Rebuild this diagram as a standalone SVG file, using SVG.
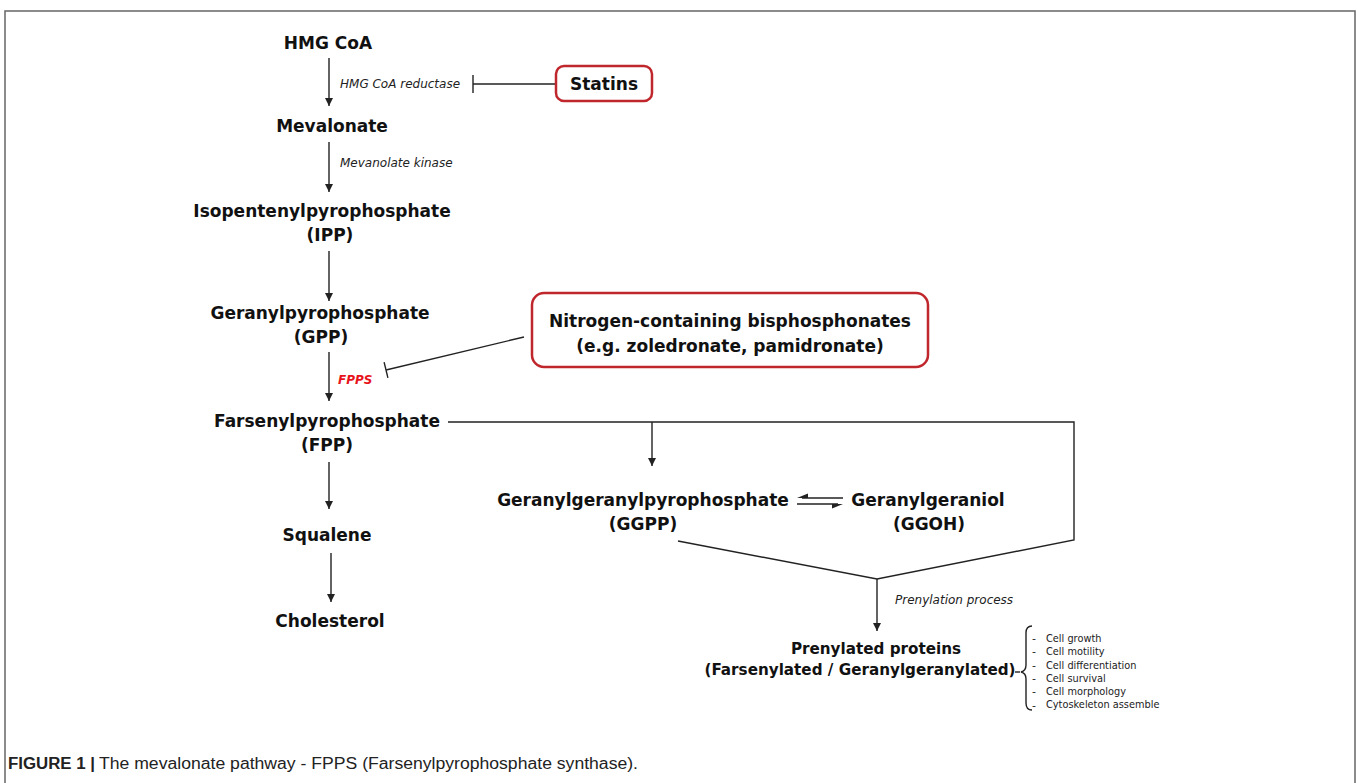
<svg xmlns="http://www.w3.org/2000/svg" width="1357" height="783" viewBox="0 0 1357 783">
<style>
.b{font-family:"DejaVu Sans",Verdana,sans-serif;font-weight:bold;font-size:17px;fill:#111;text-anchor:middle}
.b15{font-size:15.2px}
.i{font-family:"DejaVu Sans",Verdana,sans-serif;font-style:italic;font-size:12px;fill:#222}
.s{font-family:"DejaVu Sans",Verdana,sans-serif;font-size:11px;fill:#222}
.ln{stroke:#222;stroke-width:1.4;fill:none}
.box{fill:#fff;stroke:#c0272d;stroke-width:2.5}
.cap{font-family:"Liberation Sans",Arial,sans-serif;font-size:16px;fill:#222}
</style>
<defs>
<marker id="ah" viewBox="0 0 10 10" refX="10" refY="5" markerWidth="8" markerHeight="8" markerUnits="userSpaceOnUse" orient="auto">
<path d="M0,0 L10,5 L0,10 z" fill="#222"/>
</marker>
</defs>
<rect width="1357" height="783" fill="#fff"/>
<path d="M5,783 V11 H1355 V783" fill="none" stroke="#666" stroke-width="1.5"/>

<g id="connectors">
<line class="ln" x1="329" y1="58" x2="329" y2="106" marker-end="url(#ah)"/>
<line class="ln" x1="329" y1="142" x2="329" y2="192" marker-end="url(#ah)"/>
<line class="ln" x1="329" y1="251" x2="329" y2="301" marker-end="url(#ah)"/>
<line class="ln" x1="329" y1="352" x2="329" y2="401" marker-end="url(#ah)"/>
<line class="ln" x1="329" y1="462" x2="329" y2="509" marker-end="url(#ah)"/>
<line class="ln" x1="331" y1="553" x2="331" y2="602" marker-end="url(#ah)"/>
<line class="ln" x1="652" y1="422" x2="652" y2="466" marker-end="url(#ah)"/>
<line class="ln" x1="877" y1="579" x2="877" y2="631" marker-end="url(#ah)"/>
<path class="ln" d="M448,422 H1074 V540 L877,579 L678,541"/>
<line class="ln" x1="473" y1="84" x2="555" y2="84"/>
<line class="ln" x1="473" y1="75" x2="473" y2="93"/>
<line class="ln" x1="524" y1="337" x2="386" y2="370"/>
<line class="ln" x1="384.1" y1="362.2" x2="387.9" y2="377.8"/>
<line class="ln" x1="802" y1="498" x2="843" y2="498"/>
<path d="M797,498 L808,493.5 L808,498 z" fill="#222"/>
<line class="ln" x1="797" y1="504" x2="838" y2="504"/>
<path d="M843,504 L832,508.5 L832,504 z" fill="#222"/>
<line class="ln" x1="1015" y1="672" x2="1020" y2="672"/>
<path class="ln" d="M1032,626 Q1026,626 1026,633 L1026,665 Q1026,671 1021,672 Q1026,673 1026,679 L1026,703 Q1026,710 1032,710"/>
</g>

<g id="hmgcoa"><text class="b" x="328" y="49">HMG CoA</text></g>
<g id="reductase"><text class="i" x="340" y="88">HMG CoA reductase</text></g>
<g id="statins"><rect class="box" x="556" y="66" width="96" height="35" rx="8"/><text class="b" x="604" y="90">Statins</text></g>
<g id="mevalonate"><text class="b" x="332" y="132">Mevalonate</text></g>
<g id="kinase"><text class="i" x="340" y="167">Mevanolate kinase</text></g>
<g id="ipp"><text class="b" x="322" y="217">Isopentenylpyrophosphate</text><text class="b" x="330" y="241">(IPP)</text></g>
<g id="gpp"><text class="b" x="320" y="319">Geranylpyrophosphate</text><text class="b" x="321" y="343">(GPP)</text></g>
<g id="fpps"><text x="338" y="384" style="font-family:'DejaVu Sans',sans-serif;font-weight:bold;font-style:italic;font-size:12px;fill:#e8141c">FPPS</text></g>
<g id="nbp"><rect class="box" x="532" y="293" width="396" height="74" rx="12"/><text class="b" x="730" y="327">Nitrogen-containing bisphosphonates</text><text class="b" x="730" y="352">(e.g. zoledronate, pamidronate)</text></g>
<g id="fpp"><text class="b" x="327" y="427">Farsenylpyrophosphate</text><text class="b" x="327" y="451">(FPP)</text></g>
<g id="squalene"><text class="b" x="327" y="541">Squalene</text></g>
<g id="cholesterol"><text class="b" x="330" y="627">Cholesterol</text></g>
<g id="ggpp"><text class="b" x="643" y="506">Geranylgeranylpyrophosphate</text><text class="b" x="643" y="530">(GGPP)</text></g>
<g id="ggoh"><text class="b" x="928" y="506">Geranylgeraniol</text><text class="b" x="929" y="530">(GGOH)</text></g>
<g id="prenylation"><text class="i" x="895" y="604">Prenylation process</text></g>
<g id="prenylated"><text class="b b15" x="876" y="654">Prenylated proteins</text><text class="b b15" x="860" y="675">(Farsenylated / Geranylgeranylated)</text></g>
<g id="effects">
<text class="s" x="1032" y="642">-</text>
<text class="s" x="1032" y="655.3">-</text>
<text class="s" x="1032" y="668.6">-</text>
<text class="s" x="1032" y="681.9">-</text>
<text class="s" x="1032" y="695.2">-</text>
<text class="s" x="1032" y="708.5">-</text>
<g transform="translate(1046 0) scale(0.89 1)">
<text class="s" x="0" y="642">Cell growth</text>
<text class="s" x="0" y="655.3">Cell motility</text>
<text class="s" x="0" y="668.6">Cell differentiation</text>
<text class="s" x="0" y="681.9">Cell survival</text>
<text class="s" x="0" y="695.2">Cell morphology</text>
<text class="s" x="0" y="708.5">Cytoskeleton assemble</text>
</g>
</g>
<g id="caption"><text class="cap" x="8" y="769"><tspan font-weight="bold" textLength="87" lengthAdjust="spacingAndGlyphs">FIGURE 1 |</tspan><tspan x="99" textLength="539" lengthAdjust="spacingAndGlyphs">The mevalonate pathway - FPPS (Farsenylpyrophosphate synthase).</tspan></text></g>
</svg>
